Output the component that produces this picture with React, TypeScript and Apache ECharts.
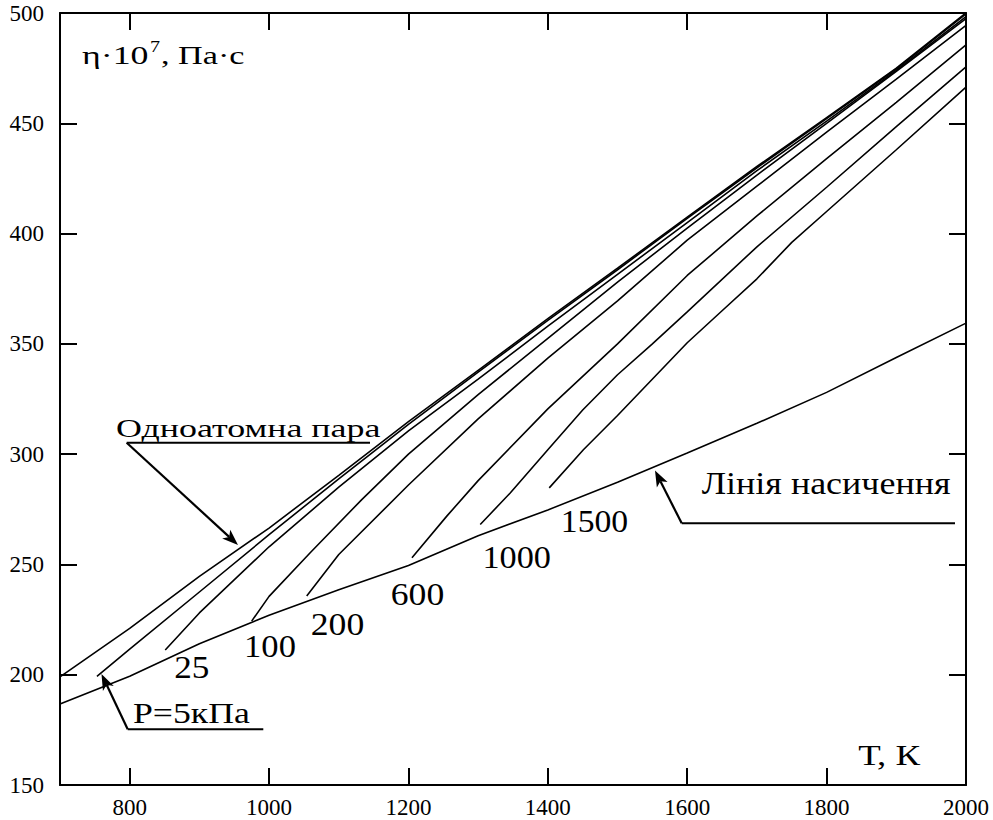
import React, { useEffect, useRef } from "react";
import * as echarts from "echarts";

// ---- data (T in K, viscosity eta*10^7 in Pa*s) ----
const xTicks = [800, 1000, 1200, 1400, 1600, 1800, 2000];

const monoT = [700, 800, 900, 1000, 1100, 1200, 1300, 1400, 1500, 1600, 1700, 1800, 1900, 2000];
const monoEta = [199, 221, 244.6, 266.5, 290.4, 314.7, 338, 361.4, 384.3, 407.5, 430.4, 452.6, 475, 500];

const p5T = [753, 800, 900, 1000, 1100, 1200, 1300, 1400, 1500, 1600, 1700, 1800, 1900, 2000];
const p5Eta = [199.2, 211.6, 237.5, 263.5, 288.8, 313.5, 337.2, 360.6, 383.6, 406.9, 429.8, 452.1, 474.6, 499.6];

const p25T = [851, 900, 1000, 1100, 1200, 1300, 1400, 1500, 1600, 1700, 1800, 1900, 2000];
const p25Eta = [211.2, 228, 258, 285, 310.5, 334, 358, 381.5, 405, 428.5, 451, 474, 498.4];

const p100T = [975, 1000, 1059, 1133, 1200, 1300, 1400, 1500, 1600, 1700, 1800, 1900, 2000];
const p100Eta = [224.3, 235.5, 255.3, 279.4, 300, 327, 352.5, 378, 402.5, 426.5, 450, 473.5, 497.4];

const p200T = [1054, 1100, 1200, 1300, 1400, 1500, 1600, 1700, 1800, 1900, 2000];
const p200Eta = [235.7, 254.5, 286, 316, 343.5, 369.5, 397, 421.5, 446, 470, 494.4];

const p600T = [1205, 1255, 1300, 1400, 1500, 1600, 1700, 1800, 1900, 2000];
const p600Eta = [253, 271.9, 288, 320.5, 350, 381, 408, 434, 459.5, 485.6];

const p1000T = [1303, 1346, 1400, 1450, 1500, 1550, 1600, 1700, 1800, 1900, 2000];
const p1000Eta = [268.1, 282.4, 302, 320, 336, 350, 364.5, 394, 421, 448.5, 475.6];

const p1500T = [1402, 1451, 1500, 1600, 1650, 1700, 1750, 1800, 1900, 2000];
const p1500Eta = [284.7, 302, 317.5, 350.5, 365, 379.5, 396, 410, 438, 466.4];

const satT = [700, 800, 900, 1000, 1100, 1200, 1300, 1400, 1500, 1600, 1700, 1800, 1900, 2000];
const satEta = [186.7, 199.3, 214, 227, 238.5, 249.5, 263, 274.7, 287.3, 300.5, 314, 328, 343.8, 359.4];

const curves = [
  { name: "mono", t: monoT, v: monoEta },
  { name: "5", t: p5T, v: p5Eta },
  { name: "25", t: p25T, v: p25Eta },
  { name: "100", t: p100T, v: p100Eta },
  { name: "200", t: p200T, v: p200Eta },
  { name: "600", t: p600T, v: p600Eta },
  { name: "1000", t: p1000T, v: p1000Eta },
  { name: "1500", t: p1500T, v: p1500Eta },
  { name: "sat", t: satT, v: satEta },
];

const FONT = "Liberation Serif";

let measureCtx: CanvasRenderingContext2D | null = null;
function measure(text: string, fs: number): number {
  if (!measureCtx) measureCtx = document.createElement("canvas").getContext("2d");
  if (!measureCtx) return text.length * fs * 0.5;
  measureCtx.font = `${fs}px Liberation Serif`;
  return measureCtx.measureText(text).width;
}

function txt(text: string, x: number, y: number, fs: number, width: number, align: string = "left") {
  const w = measure(text, fs);
  const sx = width > 0 ? (width + fs * 0.06) / w : 1;
  return {
    type: "text",
    x,
    y,
    scaleX: sx,
    silent: true,
    style: {
      x: 0,
      y: 0,
      text,
      fontSize: fs,
      fontFamily: FONT,
      fill: "#000",
      align,
      textAlign: align,
      verticalAlign: "middle",
      textVerticalAlign: "middle",
    },
  };
}

function seg(x1: number, y1: number, x2: number, y2: number, w = 2) {
  return {
    type: "line",
    silent: true,
    shape: { x1, y1, x2, y2 },
    style: { stroke: "#000", lineWidth: w },
  };
}

function arrow(x1: number, y1: number, x2: number, y2: number) {
  const dx = x2 - x1;
  const dy = y2 - y1;
  const len = Math.sqrt(dx * dx + dy * dy);
  const ux = dx / len;
  const uy = dy / len;
  const L = 16;
  const W = 6;
  const bx = x2 - ux * L;
  const by = y2 - uy * L;
  const nx = -uy;
  const ny = ux;
  return [
    seg(x1, y1, bx + ux * 4, by + uy * 4, 2.2),
    {
      type: "polygon",
      silent: true,
      shape: {
        points: [
          [x2, y2],
          [bx + nx * W, by + ny * W],
          [bx + ux * 4, by + uy * 4],
          [bx - nx * W, by - ny * W],
        ],
      },
      style: { fill: "#000" },
    },
  ];
}

export default function App() {
  const ref = useRef<HTMLDivElement>(null);

  useEffect(() => {
    if (!ref.current) return;
    const chart = echarts.init(ref.current, null, { renderer: "svg" });

    const axisLineStyle = { color: "#000", width: 2 };
    const tickStyle = { color: "#000", width: 2 };

    const series = curves.map((c) => ({
      type: "line",
      name: c.name,
      xAxisIndex: 0,
      yAxisIndex: 0,
      data: c.t.map((t, i) => [t, c.v[i]]),
      symbol: "none",
      showSymbol: false,
      smooth: false,
      silent: true,
      lineStyle: { color: "#000", width: 1.6 },
      z: 3,
    }));

    const graphics: any[] = [
      // y-axis title
      txt("η·10", 82, 55.5, 25, 65),
      txt("7", 150, 45.9, 17, 9),
      txt(", Па·с", 161, 55.5, 25, 82),
      // Monatomic vapour
      txt("Одноатомна пара", 116, 428, 26, 263),
      seg(126.7, 442.7, 370, 442.7, 2),
      ...arrow(126.7, 442.7, 238, 545),
      // P = 5 kPa
      txt("P=5кПа", 133, 713, 30, 115),
      seg(127.7, 729.3, 263.3, 729.3, 2),
      ...arrow(127.7, 729.3, 101.5, 674),
      // saturation line
      txt("Лінія насичення", 701.7, 483, 31, 247),
      seg(681.7, 523.3, 955, 523.3, 2),
      ...arrow(681.7, 523.3, 655, 470.5),
      // curve labels
      txt("25", 191.7, 667.5, 31, 33.3, "center"),
      txt("100", 270, 646.2, 31, 50, "center"),
      txt("200", 337.5, 624.5, 31, 51.6, "center"),
      txt("600", 417.5, 594.5, 31, 51.6, "center"),
      txt("1000", 516.7, 557.8, 31, 66.7, "center"),
      txt("1500", 594.5, 521.8, 31, 65.6, "center"),
      // x-axis title
      txt("Т, К", 858.3, 754.8, 30, 60),
    ];

    const option: any = {
      animation: false,
      backgroundColor: "#fff",
      grid: { left: 60, right: 27, top: 13, bottom: 35, containLabel: false },
      xAxis: [
        {
          type: "value",
          min: 700,
          max: 2000,
          position: "bottom",
          axisLine: { show: true, onZero: false, lineStyle: axisLineStyle },
          axisTick: { show: true, inside: true, length: 17, customValues: xTicks, lineStyle: tickStyle },
          axisLabel: {
            show: true,
            customValues: xTicks,
            formatter: (v: number) => String(v),
            fontFamily: FONT,
            fontSize: 23,
            color: "#000",
            margin: 11,
          },
          splitLine: { show: false },
        },
        {
          type: "value",
          min: 700,
          max: 2000,
          position: "top",
          axisLine: { show: true, onZero: false, lineStyle: axisLineStyle },
          axisTick: { show: true, inside: true, length: 17, customValues: xTicks, lineStyle: tickStyle },
          axisLabel: { show: false },
          splitLine: { show: false },
        },
      ],
      yAxis: [
        {
          type: "value",
          min: 150,
          max: 500,
          interval: 50,
          position: "left",
          axisLine: { show: true, onZero: false, lineStyle: axisLineStyle },
          axisTick: { show: true, inside: true, length: 17, lineStyle: tickStyle },
          axisLabel: {
            show: true,
            formatter: (v: number) => String(v),
            fontFamily: FONT,
            fontSize: 23,
            color: "#000",
            margin: 16,
          },
          splitLine: { show: false },
        },
        {
          type: "value",
          min: 150,
          max: 500,
          interval: 50,
          position: "right",
          axisLine: { show: true, onZero: false, lineStyle: axisLineStyle },
          axisTick: { show: true, inside: true, length: 17, lineStyle: tickStyle },
          axisLabel: { show: false },
          splitLine: { show: false },
        },
      ],
      series,
      graphic: { elements: graphics },
    };

    chart.setOption(option);
    return () => {
      chart.dispose();
    };
  }, []);

  return (
    <div
      ref={ref}
      style={{ position: "absolute", left: 0, top: 0, width: 993, height: 820, background: "#fff" }}
    />
  );
}
